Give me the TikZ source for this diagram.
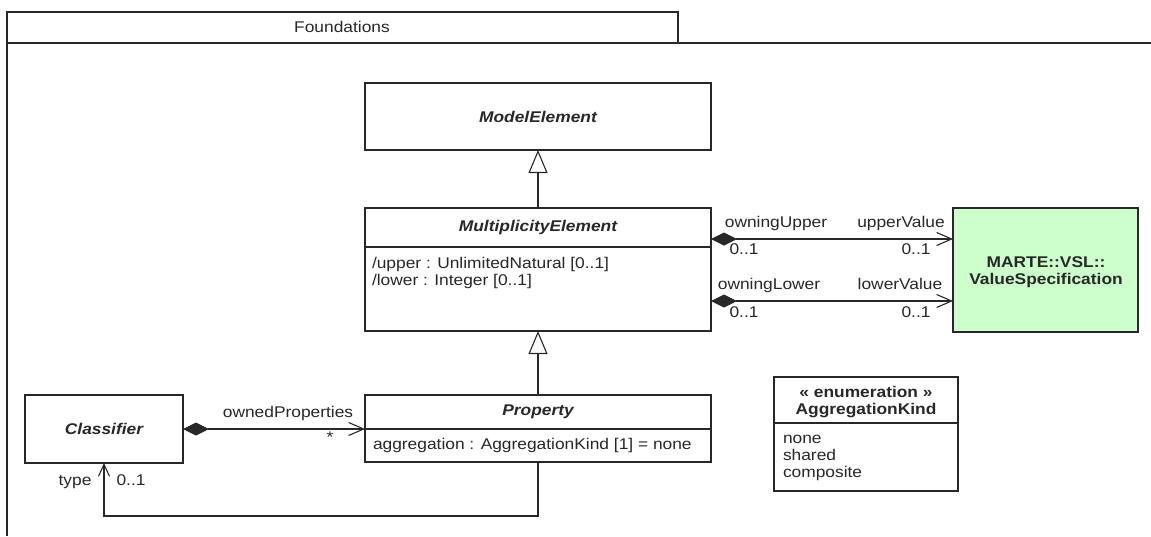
\documentclass[tikz,border=0pt]{standalone}
\usepackage{fontspec}
\setmainfont{Liberation Sans}[FakeStretch=1.12]
\usetikzlibrary{arrows.meta}
\definecolor{vsgreen}{RGB}{204,255,204}
\definecolor{ink}{RGB}{40,40,40}
\begin{document}
\begin{tikzpicture}[x=1pt,y=-1pt,
  box/.style={draw=ink, line width=1.2pt, inner sep=0pt, outer sep=0pt, anchor=north west},
  txt/.style={inner sep=0pt, outer sep=0pt, text=ink, font=\fontsize{15.5}{17.5}\selectfont},
  cls/.style={txt, font=\fontsize{15.5}{17.5}\selectfont\bfseries\itshape},
  bld/.style={txt, font=\fontsize{15.5}{17.5}\selectfont\bfseries},
  conn/.style={draw=ink, line width=1.1pt},
  gen/.style={conn, -{Triangle[open, length=23pt, width=19pt, line width=1.1pt]}},
  comp/.style={conn, {Diamond[length=26pt, width=13pt]}-{Straight Barb[length=15pt, width=13pt, line width=1.1pt]}},
  nav/.style={conn, -{Straight Barb[length=12pt, width=11pt, line width=1.1pt]}}
]
\useasboundingbox (0,0) rectangle (1151,536);
\fill[white] (0,0) rectangle (1151,536);

% package frame
\node[box, minimum width=671pt, minimum height=31pt] (tab) at (7,12) {};
\node[txt] (tabname) at (342,27) {Foundations};
\draw[draw=ink, line width=1.2pt] (tab.south west) -- (1151,43);
\draw[draw=ink, line width=1.2pt] (tab.south west) -- (7,536);

% ModelElement
\node[box, minimum width=346pt, minimum height=67pt] (me) at (365,83) {};
\node[cls] (melbl) at (me.center) {ModelElement};

% MultiplicityElement
\node[box, minimum width=346pt, minimum height=123pt] (mult) at (365,208) {};
\node[box, minimum width=346pt, minimum height=39pt] (multh) at (365,208) {};
\node[cls] (multlbl) at (multh.center) {MultiplicityElement};
\node[txt, anchor=base west] (multa1) at (372,268) {/upper : UnlimitedNatural [0..1]};
\node[txt, anchor=base west] (multa2) at (372,285.5) {/lower : Integer [0..1]};

% ValueSpecification
\node[box, fill=vsgreen, minimum width=185pt, minimum height=124pt] (vs) at (953,208) {};
\node[bld, anchor=base] (vs1) at (1046,267) {MARTE::VSL::};
\node[bld, anchor=base] (vs2) at (1046,284.5) {ValueSpecification};

% Property
\node[box, minimum width=346pt, minimum height=67pt] (prop) at (365,395) {};
\node[box, minimum width=346pt, minimum height=34pt] (proph) at (365,395) {};
\node[cls] (proplbl) at (proph.center) {Property};
\node[txt, anchor=base west] (propa) at (373,449) {aggregation : AggregationKind [1] = none};

% Classifier
\node[box, minimum width=158pt, minimum height=68pt] (clsf) at (25,395) {};
\node[cls] (clsflbl) at (clsf.center) {Classifier};

% Enumeration AggregationKind
\node[box, minimum width=184pt, minimum height=114pt] (enum) at (774,377) {};
\node[box, minimum width=184pt, minimum height=46pt] (enumh) at (774,377) {};
\node[bld, anchor=base] (enums) at (866,397) {« enumeration »};
\node[bld, anchor=base] (enumn) at (866,414.5) {AggregationKind};
\node[txt, anchor=base west] (lit1) at (783,443) {none};
\node[txt, anchor=base west] (lit2) at (783,460) {shared};
\node[txt, anchor=base west] (lit3) at (783,477) {composite};

% generalizations
\draw[gen] (mult.north) -- (me.south);
\draw[gen] (prop.north) -- (mult.south);

% owningUpper / upperValue
\draw[comp] ([yshift=-31pt]mult.north east) -- ([yshift=-31pt]vs.north west);
\node[txt, anchor=base] (ou) at (776,227) {owningUpper};
\node[txt, anchor=base] (uv) at (901,227) {upperValue};
\node[txt, anchor=base] (m1) at (744,254) {0..1};
\node[txt, anchor=base] (m2) at (916,254) {0..1};

% owningLower / lowerValue
\draw[comp] ([yshift=-93pt]mult.north east) -- ([yshift=-93pt]vs.north west);
\node[txt, anchor=base] (ol) at (769,289) {owningLower};
\node[txt, anchor=base] (lv) at (900,289) {lowerValue};
\node[txt, anchor=base] (m3) at (744,317) {0..1};
\node[txt, anchor=base] (m4) at (916,317) {0..1};

% ownedProperties
\draw[comp] (clsf.east) -- (clsf.east -| proph.south west);
\node[txt, anchor=base] (opl) at (288,417) {ownedProperties};
\node[txt] (star) at (330,437) {*};

% type
\draw[nav] (prop.south) -- ++(0,54) -| (clsf.south);
\node[txt, anchor=base] (typel) at (75,485) {type};
\node[txt, anchor=base] (tm) at (131,485) {0..1};
\end{tikzpicture}
\end{document}
